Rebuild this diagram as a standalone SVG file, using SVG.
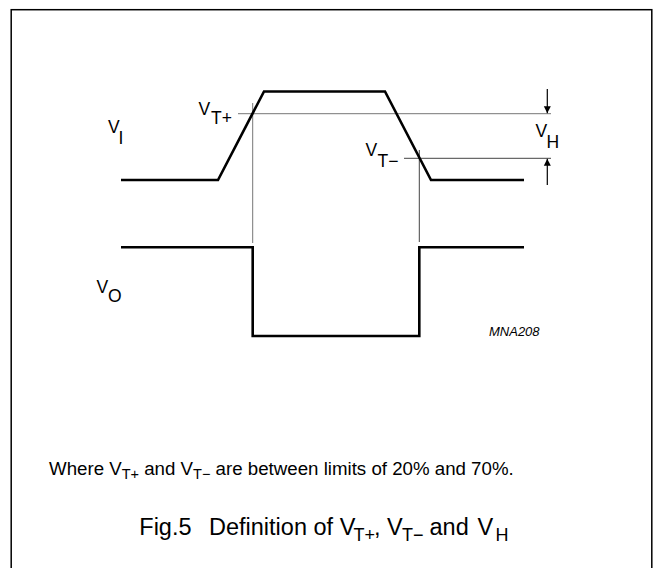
<svg xmlns="http://www.w3.org/2000/svg" width="653" height="568" viewBox="0 0 653 568">
<style>
text{font-family:"Liberation Sans",Arial,sans-serif;fill:#000}
.lbl{font-size:17.5px}
.wave{fill:none;stroke:#000;stroke-width:2.6;stroke-linejoin:miter}
.thin{fill:none;stroke:#444;stroke-width:1}
.grey{fill:none;stroke:#777;stroke-width:1}
.arr{fill:none;stroke:#000;stroke-width:1.2}
</style>
<defs>
<marker id="ah" viewBox="0 0 10 10" refX="10" refY="5" markerWidth="7" markerHeight="14" markerUnits="userSpaceOnUse" orient="auto">
<path d="M0,0 L10,5 L0,10 z" fill="#000"/>
</marker>
</defs>
<rect x="11.2" y="9.7" width="640.6" height="600" fill="#fff" stroke="#000" stroke-width="1.5"/>
<g id="connectors">
<line class="grey" x1="238" y1="113.7" x2="551" y2="113.7"/>
<line class="thin" x1="404" y1="158.3" x2="551" y2="158.3"/>
<line class="grey" x1="252.7" y1="103" x2="252.7" y2="243"/>
<line class="thin" x1="419.3" y1="150" x2="419.3" y2="242"/>
<line class="arr" x1="547.3" y1="89" x2="547.3" y2="113.2" marker-end="url(#ah)"/>
<line class="arr" x1="547.3" y1="185" x2="547.3" y2="158.8" marker-end="url(#ah)"/>
</g>
<g id="vi-wave">
<polyline class="wave" points="121,180 218,180 264,91.5 385,91.5 431,180 524,180"/>
</g>
<g id="vo-wave">
<polyline class="wave" points="121,247.3 252.7,247.3 252.7,336 419.3,336 419.3,247.3 524,247.3"/>
</g>
<g id="label-vi">
<text class="lbl" x="108" y="133">V</text><text class="lbl" x="118.5" y="143.5">I</text>
</g>
<g id="label-vtplus">
<text class="lbl" x="198.5" y="115">V</text><text class="lbl" x="211" y="124">T+</text>
</g>
<g id="label-vtminus">
<text class="lbl" x="365.5" y="156">V</text><text class="lbl" x="377.5" y="167">T−</text>
</g>
<g id="label-vh">
<text class="lbl" x="535.5" y="137">V</text><text class="lbl" x="546.5" y="147.5">H</text>
</g>
<g id="label-vo">
<text class="lbl" x="96.5" y="293">V</text><text class="lbl" x="108" y="302">O</text>
</g>
<g id="label-code">
<text x="489" y="336" font-size="13" font-style="italic">MNA208</text>
</g>
<g id="note">
<text x="49" y="475" font-size="18.7">Where V<tspan font-size="14.5" dy="3.5">T+</tspan><tspan dy="-3.5"> and V</tspan><tspan font-size="14.5" dy="3.5">T−</tspan><tspan dy="-3.5"> are between limits of 20% and 70%.</tspan></text>
</g>
<g id="caption">
<text y="534.7" font-size="23.5"><tspan x="139.3">Fig.5</tspan><tspan x="209">Definition of V</tspan><tspan x="353.5" dy="6.5" font-size="18">T+</tspan><tspan x="374" dy="-6.5">, V</tspan><tspan x="402" dy="6.5" font-size="18">T−</tspan><tspan x="429.5" dy="-6.5">and</tspan><tspan x="477.5">V</tspan><tspan x="495.5" dy="6.5" font-size="18">H</tspan></text>
</g>
</svg>
